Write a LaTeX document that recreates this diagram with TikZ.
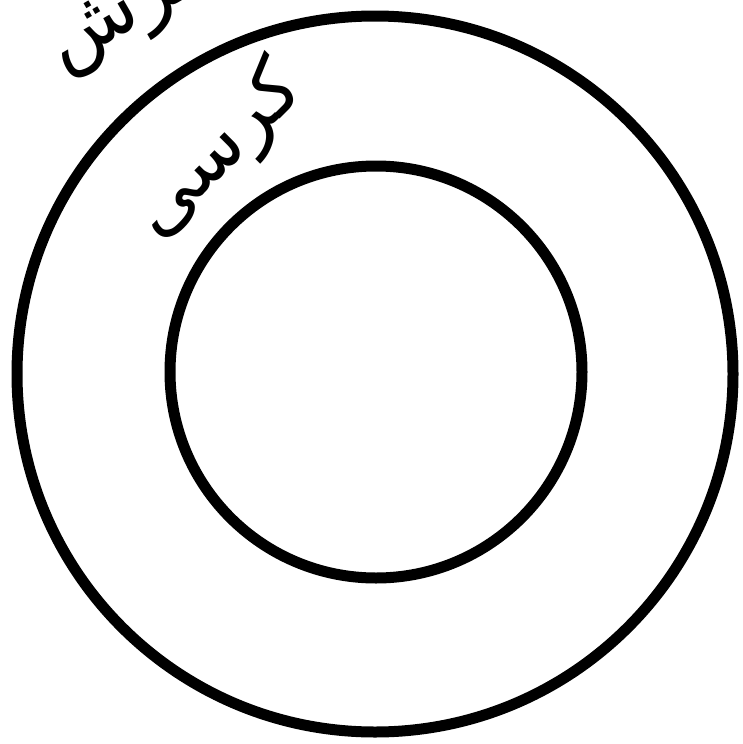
\documentclass[tikz,border=0pt]{standalone}
\usepackage{fontspec}
\newfontfamily\arabicfont[Script=Arabic]{DejaVu Sans}
\TeXXeTstate=1
\begin{document}
\begin{tikzpicture}[x=1pt,y=-1pt,
  ring/.style={circle,draw=black,line width=11pt,inner sep=0pt},
  lbl/.style={inner sep=0pt,font=\arabicfont\fontsize{78}{78}\selectfont}]
\clip (0,0) rectangle (742,744);
\useasboundingbox (0,0) rectangle (742,744);
\node[ring,minimum size=716pt] (outer) at (375,374) {};
\node[ring,minimum size=412pt] (inner) at (376,372) {};
\node[lbl,rotate=30] (arsh) at (135,12) {\beginR عرش\endR};
\node[lbl,rotate=45] (kursi) at (218,152) {\beginR کرسی\endR};
\end{tikzpicture}
\end{document}
